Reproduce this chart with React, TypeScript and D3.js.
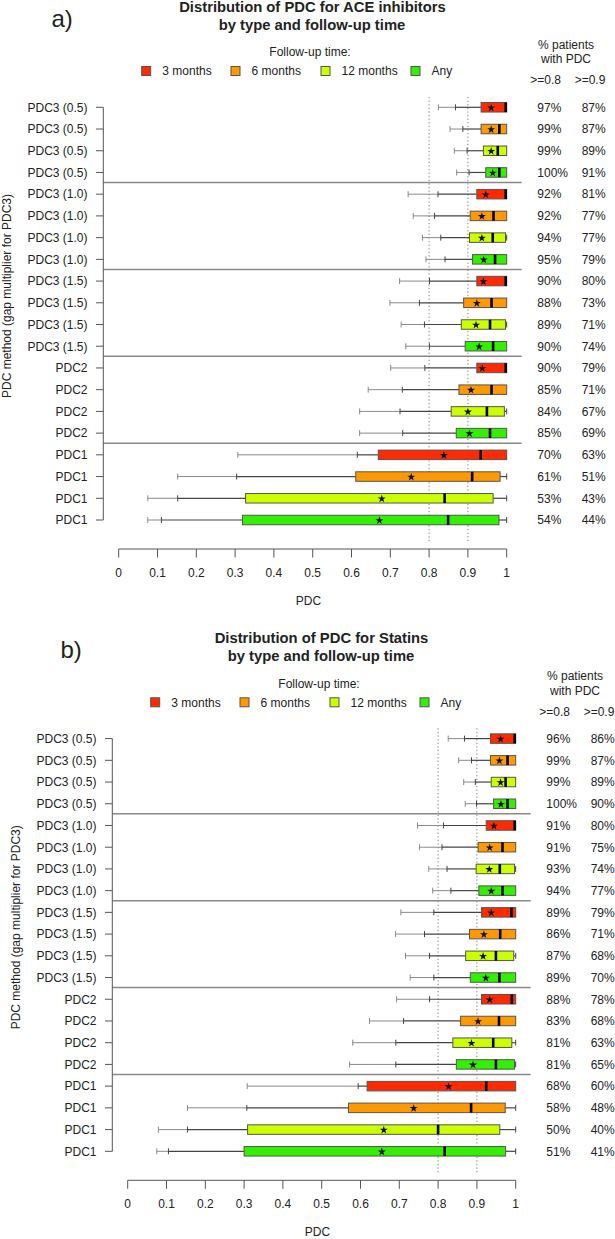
import React from "react";
import * as d3 from "d3";

// rows (top to bottom) and follow-up groups
const rowLabels = [
  "PDC3 (0.5)", "PDC3 (0.5)", "PDC3 (0.5)", "PDC3 (0.5)",
  "PDC3 (1.0)", "PDC3 (1.0)", "PDC3 (1.0)", "PDC3 (1.0)",
  "PDC3 (1.5)", "PDC3 (1.5)", "PDC3 (1.5)", "PDC3 (1.5)",
  "PDC2", "PDC2", "PDC2", "PDC2",
  "PDC1", "PDC1", "PDC1", "PDC1",
];
const followUp = ["3 months", "6 months", "12 months", "Any"];
const followColors = ["#ff2a00", "#ff9900", "#ccff00", "#33f000"];
const xTicks = [0, 0.1, 0.2, 0.3, 0.4, 0.5, 0.6, 0.7, 0.8, 0.9, 1];
const refLines = [0.8, 0.9];

// a) ACE inhibitors
const aceLo = [0.824, 0.854, 0.865, 0.871, 0.746, 0.759, 0.783, 0.792, 0.724, 0.699, 0.728, 0.74, 0.701, 0.643, 0.621, 0.621, 0.307, 0.152, 0.075, 0.075];
const aceP10 = [0.868, 0.887, 0.898, 0.903, 0.823, 0.814, 0.83, 0.841, 0.801, 0.775, 0.788, 0.801, 0.789, 0.731, 0.725, 0.732, 0.615, 0.304, 0.152, 0.11];
const aceQ1 = [0.934, 0.934, 0.94, 0.946, 0.923, 0.906, 0.904, 0.912, 0.923, 0.889, 0.883, 0.893, 0.923, 0.877, 0.857, 0.87, 0.669, 0.611, 0.327, 0.319];
const aceMed = [1, 0.981, 0.977, 0.981, 1, 0.966, 0.964, 0.97, 1, 0.961, 0.957, 0.965, 1, 0.961, 0.949, 0.957, 0.933, 0.911, 0.84, 0.849];
const aceQ3 = [1, 1, 1, 1, 1, 1, 0.997, 1, 1, 1, 0.997, 1, 1, 1, 0.994, 1, 1, 0.983, 0.965, 0.98];
const aceHi = [1, 1, 1, 1, 1, 1, 1, 1, 1, 1, 1, 1, 1, 1, 1, 1, 1, 1, 1, 1];
const aceMean = [0.96, 0.96, 0.96, 0.964, 0.946, 0.936, 0.936, 0.941, 0.94, 0.923, 0.921, 0.929, 0.937, 0.908, 0.9, 0.904, 0.838, 0.754, 0.678, 0.672];
const acePct80 = [97, 99, 99, 100, 92, 92, 94, 95, 90, 88, 89, 90, 90, 85, 84, 85, 70, 61, 53, 54];
const acePct90 = [87, 87, 89, 91, 81, 77, 77, 79, 80, 73, 71, 74, 79, 71, 67, 69, 63, 51, 43, 44];

// b) Statins
const stLo = [0.826, 0.853, 0.866, 0.87, 0.747, 0.752, 0.776, 0.786, 0.704, 0.69, 0.716, 0.728, 0.693, 0.623, 0.58, 0.572, 0.308, 0.154, 0.079, 0.075];
const stP10 = [0.868, 0.886, 0.896, 0.899, 0.814, 0.81, 0.823, 0.833, 0.789, 0.765, 0.778, 0.789, 0.778, 0.711, 0.691, 0.691, 0.594, 0.307, 0.154, 0.105];
const stQ1 = [0.935, 0.935, 0.937, 0.943, 0.924, 0.903, 0.898, 0.905, 0.912, 0.881, 0.871, 0.883, 0.912, 0.858, 0.838, 0.847, 0.617, 0.569, 0.309, 0.3];
const stMed = [1, 0.979, 0.974, 0.979, 1, 0.966, 0.959, 0.966, 0.989, 0.96, 0.949, 0.958, 0.99, 0.957, 0.942, 0.949, 0.924, 0.885, 0.8, 0.817];
const stQ3 = [1, 1, 1, 1, 1, 1, 0.997, 1, 1, 1, 0.995, 1, 1, 1, 0.99, 0.997, 1, 0.973, 0.959, 0.974];
const stHi = [1, 1, 1, 1, 1, 1, 1, 1, 1, 1, 1, 1, 1, 1, 1, 1, 1, 1, 1, 1];
const stMean = [0.961, 0.958, 0.961, 0.962, 0.944, 0.933, 0.932, 0.937, 0.937, 0.918, 0.916, 0.923, 0.933, 0.903, 0.886, 0.89, 0.827, 0.737, 0.66, 0.655];
const stPct80 = [96, 99, 99, 100, 91, 91, 93, 94, 89, 86, 87, 89, 88, 83, 81, 81, 68, 58, 50, 51];
const stPct90 = [86, 87, 89, 90, 80, 75, 74, 77, 79, 71, 68, 70, 78, 68, 63, 65, 60, 48, 40, 41];

const FONT = "'Liberation Sans', Arial, Helvetica, sans-serif";
const AXIS = "#555";
const TXT = "#222";

function Panel(props: any) {
  const { letter, title, lo, p10, q1, med, q3, hi, mean, pct80, pct90, dx, dy } = props;
  const x = d3.scaleLinear().domain([0, 1]).range([118.7, 506.7]);
  const y = d3.scalePoint<number>().domain(d3.range(rowLabels.length)).range([107.3, 520]);
  const boxH = 9.5;
  const cap = 3;
  const star = d3.symbol().type(d3.symbolStar).size(20)();
  const groupBreaks = [4, 8, 12, 16];

  return (
    <g transform={`translate(${dx},${dy})`} fontFamily={FONT}>
      <text x={51.5} y={26.5} fontSize={24} fill={TXT}>{letter}</text>
      <text x={312.5} y={11.5} fontSize={14.8} fontWeight="bold" textAnchor="middle" fill={TXT}>{title}</text>
      <text x={312} y={29.5} fontSize={14.8} fontWeight="bold" textAnchor="middle" fill={TXT}>by type and follow-up time</text>

      {/* legend */}
      <text x={310} y={56.3} fontSize={12} textAnchor="middle" fill={TXT}>Follow-up time:</text>
      {followUp.map((f, i) => {
        const sx = [141.7, 231, 321, 411][i];
        return (
          <g key={f}>
            <rect x={sx} y={66.5} width={9} height={9} fill={followColors[i]} stroke={AXIS} strokeWidth={1} />
            <text x={sx + 20.6} y={75.3} fontSize={12} fill={TXT}>{f}</text>
          </g>
        );
      })}

      {/* right-hand header */}
      <text x={566} y={48.6} fontSize={12} textAnchor="middle" fill={TXT}>% patients</text>
      <text x={566} y={63.4} fontSize={12} textAnchor="middle" fill={TXT}>with PDC</text>
      <text x={545.7} y={84.3} fontSize={12} textAnchor="middle" fill={TXT}>&gt;=0.8</text>
      <text x={590} y={84.3} fontSize={12} textAnchor="middle" fill={TXT}>&gt;=0.9</text>

      {/* reference lines */}
      {refLines.map((r) => (
        <line key={r} x1={x(r)} x2={x(r)} y1={97} y2={542} stroke="#777" strokeWidth={1} strokeDasharray="1.2,2.4" />
      ))}

      {/* group separators */}
      {groupBreaks.map((b) => {
        const yy = ((y(b - 1) as number) + (y(b) as number)) / 2 - 0.8;
        return <line key={b} x1={103.3} x2={521.7} y1={yy} y2={yy} stroke="#888" strokeWidth={1.5} />;
      })}

      {/* y axis */}
      <line x1={103.3} x2={103.3} y1={y(0)} y2={y(19)} stroke={AXIS} strokeWidth={1} />
      {rowLabels.map((l, i) => {
        const yy = y(i) as number;
        return (
          <g key={i}>
            <line x1={96} x2={103.3} y1={yy} y2={yy} stroke={AXIS} strokeWidth={1} />
            <text x={87.5} y={yy + 4.3} fontSize={12} textAnchor="end" fill={TXT}>{l}</text>
          </g>
        );
      })}
      <text transform="translate(11,296) rotate(-90)" fontSize={12} textAnchor="middle" fill={TXT}>
        PDC method (gap multiplier for PDC3)
      </text>

      {/* boxes */}
      {rowLabels.map((_, i) => {
        const yy = y(i) as number;
        const col = followColors[i % 4];
        return (
          <g key={"b" + i}>
            <line x1={x(lo[i])} x2={x(p10[i])} y1={yy} y2={yy} stroke="#8a8a8a" strokeWidth={1} />
            <line x1={x(lo[i])} x2={x(lo[i])} y1={yy - cap} y2={yy + cap} stroke="#8a8a8a" strokeWidth={1} />
            <line x1={x(p10[i])} x2={x(q1[i])} y1={yy} y2={yy} stroke="#444" strokeWidth={1.2} />
            <line x1={x(p10[i])} x2={x(p10[i])} y1={yy - cap} y2={yy + cap} stroke="#444" strokeWidth={1} />
            {q3[i] < hi[i] && (
              <g>
                <line x1={x(q3[i])} x2={x(hi[i])} y1={yy} y2={yy} stroke="#444" strokeWidth={1.2} />
                <line x1={x(hi[i])} x2={x(hi[i])} y1={yy - cap} y2={yy + cap} stroke="#444" strokeWidth={1} />
              </g>
            )}
            <rect x={x(q1[i])} y={yy - boxH / 2} width={x(q3[i]) - x(q1[i])} height={boxH} fill={col} stroke="#555" strokeWidth={1} />
            <line x1={x(med[i]) - (med[i] >= 1 ? 1 : 0)} x2={x(med[i]) - (med[i] >= 1 ? 1 : 0)} y1={yy - boxH / 2} y2={yy + boxH / 2} stroke="#000" strokeWidth={2.6} />
            <path d={star as string} transform={`translate(${x(mean[i])},${yy + 0.5})`} fill="#111" />
            <text x={537.3} y={yy + 4.3} fontSize={12} fill={TXT}>{pct80[i]}%</text>
            <text x={581.7} y={yy + 4.3} fontSize={12} fill={TXT}>{pct90[i]}%</text>
          </g>
        );
      })}

      {/* x axis */}
      <line x1={x(0)} x2={x(1)} y1={549} y2={549} stroke={AXIS} strokeWidth={1} />
      {xTicks.map((t) => (
        <g key={t}>
          <line x1={x(t)} x2={x(t)} y1={549} y2={557.5} stroke={AXIS} strokeWidth={1} />
          <text x={x(t)} y={577} fontSize={12} textAnchor="middle" fill={TXT}>{String(t)}</text>
        </g>
      ))}
      <text x={308.5} y={605} fontSize={12} textAnchor="middle" fill={TXT}>PDC</text>
    </g>
  );
}

export default function App() {
  return (
    <svg width={615} height={1239} style={{ position: "absolute", left: 0, top: 0, background: "#fff" }}>
      <rect width={615} height={1239} fill="#fff" />
      <Panel letter="a)" title="Distribution of PDC for ACE inhibitors"
        lo={aceLo} p10={aceP10} q1={aceQ1} med={aceMed} q3={aceQ3} hi={aceHi} mean={aceMean}
        pct80={acePct80} pct90={acePct90} dx={0} dy={0} />
      <Panel letter="b)" title="Distribution of PDC for Statins"
        lo={stLo} p10={stP10} q1={stQ1} med={stMed} q3={stQ3} hi={stHi} mean={stMean}
        pct80={stPct80} pct90={stPct90} dx={9} dy={631.3} />
    </svg>
  );
}
